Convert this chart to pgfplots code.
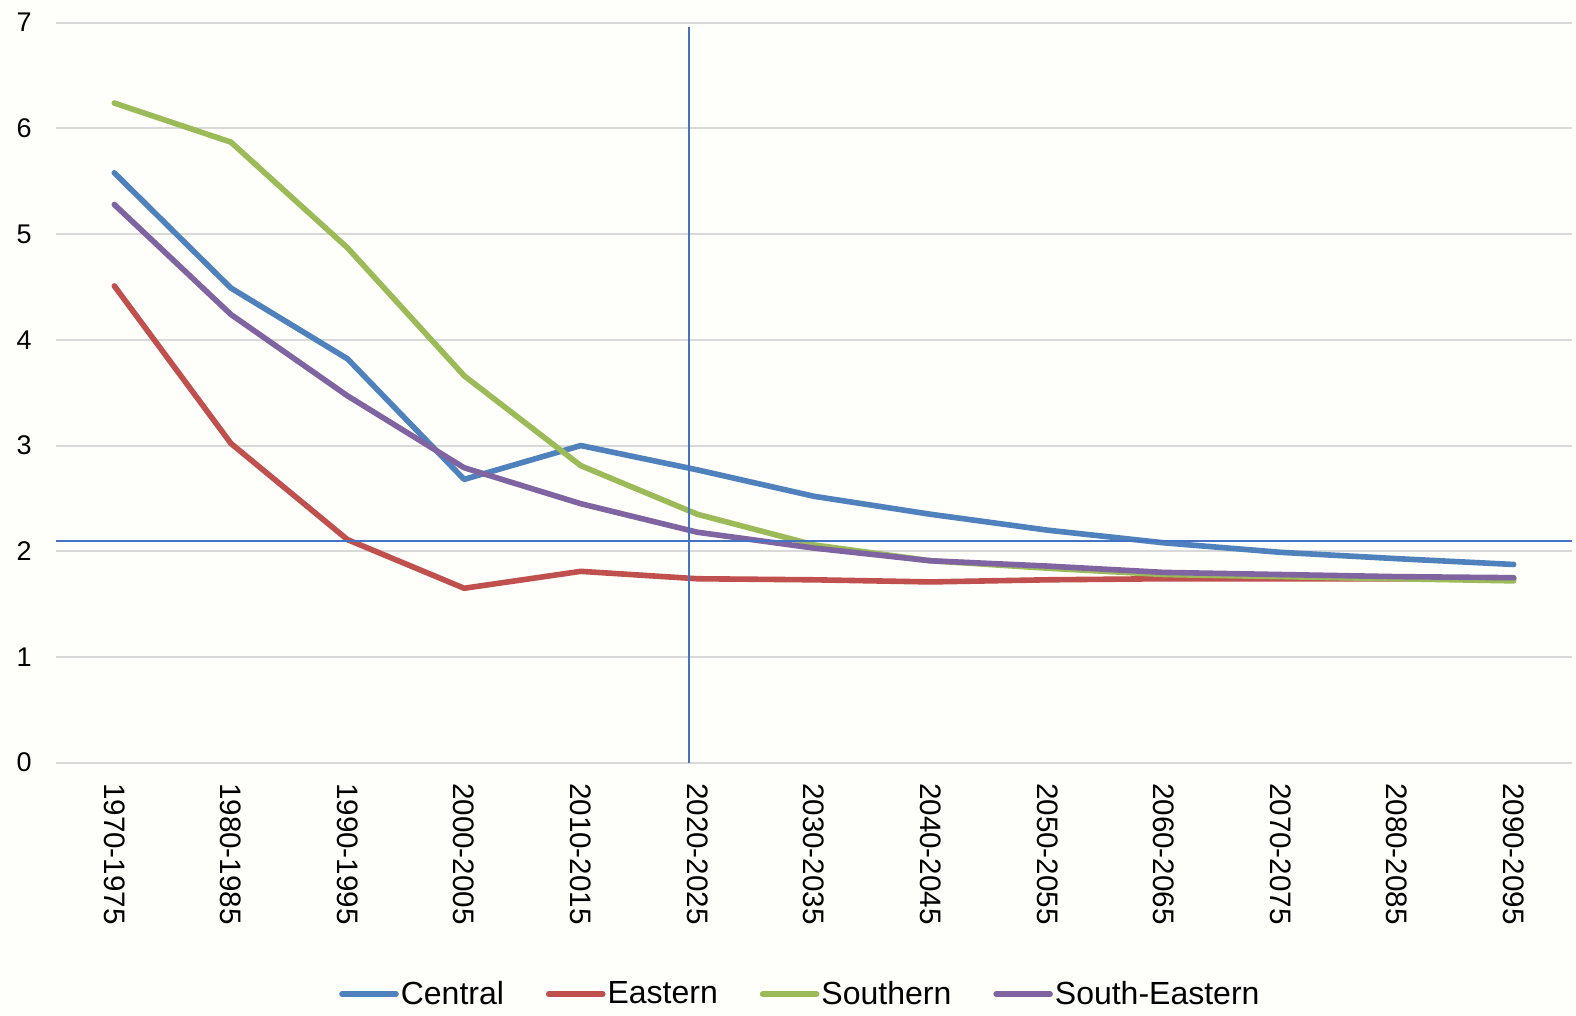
\documentclass[border=0pt]{standalone}
\usepackage{pgfplots}
\pgfplotsset{compat=1.18}
\usepackage{fontspec}
\setmainfont{Liberation Sans}
\definecolor{cCentral}{HTML}{4F81BD}
\definecolor{cEastern}{HTML}{C0504D}
\definecolor{cSouthern}{HTML}{9BBB59}
\definecolor{cSE}{HTML}{8064A2}
\definecolor{refline}{HTML}{4472C4}
\definecolor{gridc}{HTML}{D9D9D9}
\definecolor{bg}{RGB}{254,254,250}
\begin{document}
\begin{tikzpicture}
\path[use as bounding box, fill=bg] (-28pt,-126.65pt) rectangle (760pt,381.35pt);
\begin{axis}[
  scale only axis, width=758pt, height=370pt,
  xmin=-0.5, xmax=12.5, ymin=0, ymax=7,
  axis line style={draw=none},
  xtick={0,...,12},
  xticklabels={1970-1975,1980-1985,1990-1995,2000-2005,2010-2015,2020-2025,2030-2035,2040-2045,2050-2055,2060-2065,2070-2075,2080-2085,2090-2095},
  ytick={0,...,7},
  major tick length=0pt,
  ymajorgrids, grid style={gridc, line width=1pt},
  /pgf/number format/assume math mode=true,
  xticklabel style={rotate=-90, anchor=west, inner sep=0pt, font=\fontsize{14.8}{17}\selectfont},
  xticklabel shift=10pt,
  yticklabel style={anchor=east, inner sep=0pt, font=\fontsize{13.5}{16}\selectfont},
  yticklabel shift=12pt,
  every axis plot/.append style={line width=2.8pt, line join=round, line cap=round},
  legend columns=4,
  legend style={at={(0.491,-0.3126)}, anchor=center, draw=none, fill=none,
    font=\fontsize{16}{19}\selectfont, inner sep=0pt,
    /tikz/every even column/.append style={column sep=20pt},
    nodes={inner sep=1pt}},
  legend image code/.code={\draw[#1, line width=2.8pt, line cap=round] (0pt,0pt) -- (27pt,0pt);},
]
\addplot[cCentral] coordinates {(0,5.58) (1,4.49) (2,3.82) (3,2.68) (4,3.00) (5,2.77) (6,2.52) (7,2.35) (8,2.20) (9,2.08) (10,1.99) (11,1.93) (12,1.875)};
\addlegendentry{Central}
\addplot[cEastern] coordinates {(0,4.51) (1,3.02) (2,2.11) (3,1.65) (4,1.81) (5,1.74) (6,1.73) (7,1.71) (8,1.73) (9,1.74) (10,1.74) (11,1.74) (12,1.74)};
\addlegendentry{Eastern}
\addplot[cSouthern] coordinates {(0,6.24) (1,5.87) (2,4.87) (3,3.66) (4,2.81) (5,2.35) (6,2.06) (7,1.91) (8,1.84) (9,1.78) (10,1.76) (11,1.74) (12,1.72)};
\addlegendentry{Southern}
\addplot[cSE] coordinates {(0,5.28) (1,4.24) (2,3.47) (3,2.79) (4,2.45) (5,2.18) (6,2.03) (7,1.91) (8,1.86) (9,1.80) (10,1.78) (11,1.76) (12,1.75)};
\addlegendentry{South-Eastern}
\addplot[refline, line width=1pt, line cap=butt, forget plot] coordinates {(-0.5,2.1) (12.5,2.1)};
\addplot[refline, line width=1pt, line cap=butt, forget plot] coordinates {(4.93,0) (4.93,6.96)};
\end{axis}
\end{tikzpicture}
\end{document}
